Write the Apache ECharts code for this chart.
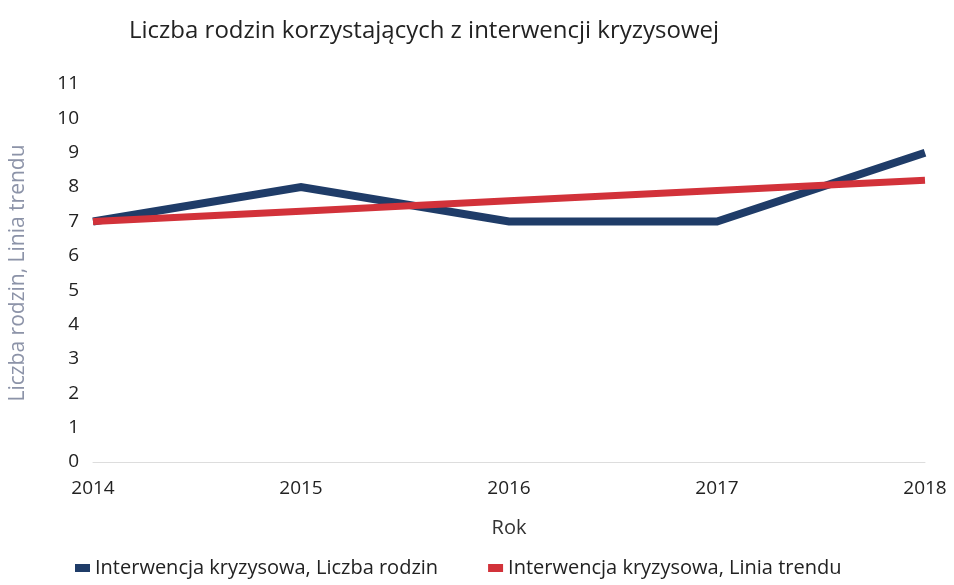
<!DOCTYPE html>
<html><head><meta charset="utf-8">
<script src="https://cdn.jsdelivr.net/npm/echarts@6/dist/echarts.min.js"></script>
<style>html,body{margin:0;padding:0;background:#fff}#c{width:954px;height:585px}</style>
</head><body><div id="c"></div>
<script>
const years = ['2014','2015','2016','2017','2018'];
const families = [7, 8, 7, 7, 9];
const trend = [7.0, 7.3, 7.6, 7.9, 8.2];
const seriesNames = ['Interwencja kryzysowa, Liczba rodzin', 'Interwencja kryzysowa, Linia trendu'];
const chart = echarts.init(document.getElementById('c'));
const font = '"Open Sans", "DejaVu Sans", sans-serif';
chart.setOption({
  backgroundColor: '#fff',
  animation: false,
  title: {text: 'Liczba rodzin korzystających z interwencji kryzysowej', left: 124, top: 14,
    textStyle: {fontFamily: font, fontSize: 24, fontWeight: 'normal', color: '#222'}},
  grid: {left: 88, right: 29, top: 84, bottom: 123},
  legend: {left: 70, bottom: 2, itemWidth: 15, itemHeight: 8, itemGap: 50, icon: 'rect',
    textStyle: {fontFamily: font, fontSize: 20, color: '#222'}},
  xAxis: {type: 'category', data: years, boundaryGap: false, name: 'Rok', nameLocation: 'middle', nameGap: 56,
    nameTextStyle: {fontFamily: font, fontSize: 20, color: '#333'},
    axisLine: {lineStyle: {color: '#ddd', width: 1}}, axisTick: {show: false},
    axisLabel: {fontFamily: font, fontSize: 19, color: '#222', margin: 17}},
  yAxis: {type: 'value', min: 0, max: 11, interval: 1, name: 'Liczba rodzin, Linia trendu', nameLocation: 'middle', nameGap: 64,
    nameTextStyle: {fontFamily: font, fontSize: 21, color: '#8c93a8'},
    splitLine: {show: false}, axisLine: {show: false}, axisTick: {show: false},
    axisLabel: {fontFamily: font, fontSize: 19, color: '#222', margin: 14}},
  series: [
    {name: seriesNames[0], type: 'line', data: families, symbol: 'none', color: '#1f3c68',
      lineStyle: {width: 8, color: '#1f3c68', join: 'miter'}},
    {name: seriesNames[1], type: 'line', data: trend, symbol: 'none', color: '#d2323a',
      lineStyle: {width: 7, color: '#d2323a'}}
  ]
});
</script></body></html>
